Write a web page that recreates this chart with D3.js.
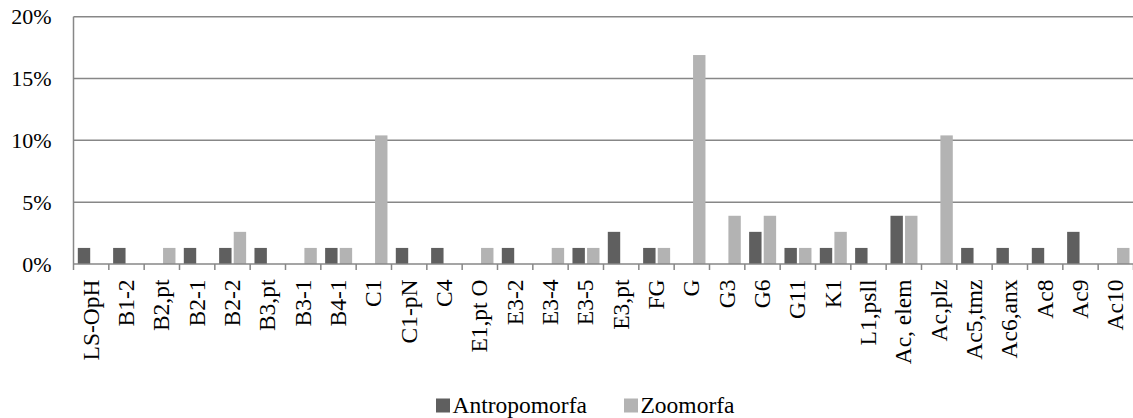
<!DOCTYPE html>
<html>
<head>
<meta charset="utf-8">
<script src="https://cdn.jsdelivr.net/npm/d3@7"></script>
<style>
  html, body { margin: 0; padding: 0; background: #fff; }
  svg { display: block; }
  text { font-family: "Liberation Serif", "Times New Roman", serif; fill: #000; }
</style>
</head>
<body>
<svg id="chart" width="1133" height="418"></svg>
<script>
const categories = ["LS-OpH","B1-2","B2,pt","B2-1","B2-2","B3,pt","B3-1","B4-1","C1","C1-pN","C4","E1,pt O","E3-2","E3-4","E3-5","E3,pt","FG","G","G3","G6","G11","K1","L1,psll","Ac, elem","Ac,plz","Ac5,tmz","Ac6,anx","Ac8","Ac9","Ac10"];
const antropomorfa = [1.3,1.3,0,1.3,1.3,1.3,0,1.3,0,1.3,1.3,0,1.3,0,1.3,2.6,1.3,0,0,2.6,1.3,1.3,1.3,3.9,0,1.3,1.3,1.3,2.6,0];
const zoomorfa = [0,0,1.3,0,2.6,0,1.3,1.3,10.4,0,0,1.3,0,1.3,1.3,0,1.3,16.9,3.9,3.9,1.3,2.6,0,3.9,10.4,0,0,0,0,1.3];
const seriesNames = ["Antropomorfa","Zoomorfa"];
const seriesColors = ["#5f5f5f","#b3b3b3"];
const yTicks = [0,5,10,15,20];

const svg = d3.select("#chart");
const pLeft = 73.5, pRight = 1133.5, pTop = 16.7, pBottom = 264;

const x0 = d3.scaleBand().domain(categories).range([pLeft, pRight]).padding(0);
const x1 = d3.scaleBand().domain(seriesNames).range([4.3, 31.3]).paddingInner(0.15);
const y = d3.scaleLinear().domain([0, 20]).range([pBottom, pTop]);

const gridColor = "#878787";

// gridlines
svg.append("g").selectAll("line").data(yTicks.filter(t => t > 0)).join("line")
  .attr("x1", pLeft).attr("x2", pRight)
  .attr("y1", d => y(d)).attr("y2", d => y(d))
  .attr("stroke", gridColor).attr("stroke-width", 1.5);

// y axis labels
const yAxis = d3.axisLeft(y).tickValues(yTicks).tickFormat(d => d + "%").tickSize(0).tickPadding(0);
const yg = svg.append("g").attr("transform", `translate(${pLeft - 21.8},0)`).call(yAxis);
yg.select(".domain").remove();
yg.selectAll("text").attr("font-size", "22px").attr("font-family", "Liberation Serif").attr("fill", "#000");

// bars
const data = categories.map((c, i) => ({ cat: c, vals: [antropomorfa[i], zoomorfa[i]] }));
const groups = svg.append("g").selectAll("g").data(data).join("g")
  .attr("transform", d => `translate(${x0(d.cat)},0)`);
groups.selectAll("rect").data(d => d.vals.map((v, k) => ({ s: seriesNames[k], v, k }))).join("rect")
  .attr("x", d => x1(d.s))
  .attr("width", x1.bandwidth())
  .attr("y", d => y(d.v))
  .attr("height", d => y(0) - y(d.v))
  .attr("fill", d => seriesColors[d.k]);

// left axis line
svg.append("line").attr("x1", pLeft).attr("x2", pLeft).attr("y1", pTop).attr("y2", pBottom)
  .attr("stroke", gridColor).attr("stroke-width", 1.5);

// x axis
const tickPos = categories.map(c => x0(c)).concat([pRight]);
svg.append("line").attr("x1", pLeft).attr("x2", pRight).attr("y1", pBottom).attr("y2", pBottom)
  .attr("stroke", gridColor).attr("stroke-width", 1.5);
svg.append("g").selectAll("line").data(tickPos).join("line")
  .attr("x1", d => d).attr("x2", d => d).attr("y1", pBottom).attr("y2", pBottom + 6)
  .attr("stroke", gridColor).attr("stroke-width", 1.5);

// x labels
svg.append("g").selectAll("text").data(categories).join("text")
  .attr("transform", d => `translate(${x0(d) + x0.bandwidth() / 2},279.5) rotate(-90)`)
  .attr("text-anchor", "end")
  .attr("dy", "0.32em")
  .attr("font-size", "23.5px")
  .text(d => d);

// legend
const legendItems = [{ name: seriesNames[0], x: 436, color: seriesColors[0] }, { name: seriesNames[1], x: 624, color: seriesColors[1] }];
const lg = svg.append("g").selectAll("g").data(legendItems).join("g")
  .attr("transform", d => `translate(${d.x},0)`);
lg.append("rect").attr("x", 0).attr("y", 398.5).attr("width", 14).attr("height", 14).attr("fill", d => d.color);
lg.append("text").attr("x", 16.5).attr("y", 413).attr("font-size", "23.5px").text(d => d.name);
</script>
</body>
</html>
